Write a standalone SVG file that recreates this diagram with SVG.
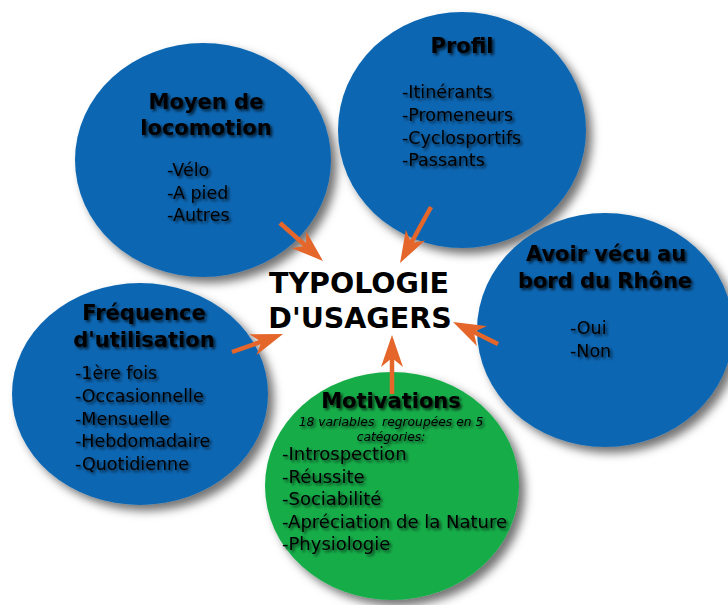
<svg xmlns="http://www.w3.org/2000/svg" width="728" height="605" viewBox="0 0 728 605">
<style>
.blue{fill:#0a66b2}
.green{fill:#17ad4a}
.title{font-family:"DejaVu Sans",sans-serif;font-weight:bold;font-size:21px;fill:#000;text-anchor:middle}
.item{font-family:"DejaVu Sans",sans-serif;font-size:17.5px;fill:#000}
.sub{font-family:"DejaVu Sans",sans-serif;font-style:italic;font-size:12.3px;fill:#000;text-anchor:middle;white-space:pre}
.center{font-family:"DejaVu Sans",sans-serif;font-weight:bold;font-size:28.5px;fill:#000;text-anchor:middle}
.arr{stroke:#e5662a;stroke-width:4.5;fill:none;marker-end:url(#head)}
</style>
<defs>
<filter id="ds" x="-20%" y="-20%" width="150%" height="150%">
<feDropShadow dx="6" dy="6" stdDeviation="5" flood-color="#000" flood-opacity="0.55"/>
</filter>
<filter id="ts" x="-10%" y="-30%" width="130%" height="170%">
<feGaussianBlur in="SourceAlpha" stdDeviation="1.6" result="b"/>
<feOffset in="b" dx="1.5" dy="1.5" result="o"/>
<feComponentTransfer in="o" result="t"><feFuncA type="linear" slope="0.75"/></feComponentTransfer>
<feMerge><feMergeNode in="t"/><feMergeNode in="SourceGraphic"/></feMerge>
</filter>
<marker id="head" markerUnits="userSpaceOnUse" viewBox="0 0 32 22" markerWidth="32" markerHeight="22" refX="18" refY="11" orient="auto">
<path d="M32,11 L0,0 L9,11 L0,22 Z" fill="#e5662a"/>
</marker>
</defs>

<g id="node-moyen">
<ellipse class="blue" cx="203" cy="160" rx="128" ry="117" filter="url(#ds)"/>
<g filter="url(#ts)">
<text class="title" x="206" y="109">Moyen de</text>
<text class="title" x="206" y="135">locomotion</text>
<text class="item" x="167" y="176">-Vélo</text>
<text class="item" x="167" y="198.5">-A pied</text>
<text class="item" x="167" y="221">-Autres</text>
</g>
</g>

<g id="node-profil">
<ellipse class="blue" cx="462" cy="130" rx="124" ry="118" filter="url(#ds)"/>
<g filter="url(#ts)">
<text class="title" x="462" y="53">Profil</text>
<text class="item" x="402" y="98">-Itinérants</text>
<text class="item" x="402" y="121">-Promeneurs</text>
<text class="item" x="402" y="143.5">-Cyclosportifs</text>
<text class="item" x="402" y="166">-Passants</text>
</g>
</g>

<g id="node-avoir">
<ellipse class="blue" cx="605" cy="330" rx="128" ry="117" filter="url(#ds)"/>
<g filter="url(#ts)">
<text class="title" x="606" y="261">Avoir vécu au</text>
<text class="title" x="605" y="288">bord du Rhône</text>
<text class="item" x="570" y="334">-Oui</text>
<text class="item" x="570" y="357">-Non</text>
</g>
</g>

<g id="node-frequence">
<ellipse class="blue" cx="140" cy="394" rx="128" ry="111" filter="url(#ds)"/>
<g filter="url(#ts)">
<text class="title" x="144" y="320">Fréquence</text>
<text class="title" x="144" y="347">d'utilisation</text>
<text class="item" x="75" y="379">-1ère fois</text>
<text class="item" x="75" y="402">-Occasionnelle</text>
<text class="item" x="75" y="424.5">-Mensuelle</text>
<text class="item" x="75" y="447">-Hebdomadaire</text>
<text class="item" x="75" y="470">-Quotidienne</text>
</g>
</g>

<g id="node-motivations">
<ellipse class="green" cx="392" cy="486" rx="127" ry="114" filter="url(#ds)"/>
<g filter="url(#ts)">
<text class="title" x="391" y="408">Motivations</text>
<text class="sub" x="391" y="426">18 variables  regroupées en 5</text>
<text class="sub" x="391" y="441">catégories:</text>
<text class="item" x="282" y="460" style="font-size:18px">-Introspection</text>
<text class="item" x="282" y="483" style="font-size:18px">-Réussite</text>
<text class="item" x="282" y="505" style="font-size:18px">-Sociabilité</text>
<text class="item" x="282" y="528" style="font-size:18px">-Apréciation de la Nature</text>
<text class="item" x="282" y="550" style="font-size:18px">-Physiologie</text>
</g>
</g>

<g id="node-center">
<text class="center" x="359" y="293">TYPOLOGIE</text>
<text class="center" x="360" y="328">D'USAGERS</text>
</g>

<g id="connectors">
<path class="arr" d="M280,223 L312.5,251.7"/>
<path class="arr" d="M431,207 L406.8,250.8"/>
<path class="arr" d="M232,352 L269.8,338.7"/>
<path class="arr" d="M498,344 L465.6,328.1"/>
<path class="arr" d="M392,394 L392,349"/>
</g>
</svg>
